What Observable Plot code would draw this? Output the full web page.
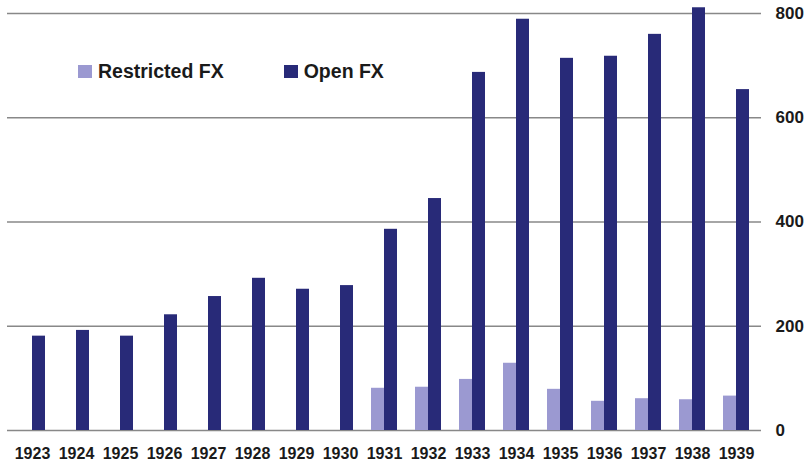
<!DOCTYPE html>
<html>
<head>
<meta charset="utf-8">
<script src="https://cdn.jsdelivr.net/npm/d3@7"></script>
<script src="https://cdn.jsdelivr.net/npm/@observablehq/plot@0.6"></script>
<style>
  html, body { margin: 0; padding: 0; background: #fff; }
  #wrap { position: relative; width: 807px; height: 464px; font-family: "Liberation Sans", Arial, sans-serif; }
  #legend { position: absolute; left: 78px; top: 60px; display: flex; align-items: center; font-weight: bold; font-size: 19.5px; color: #1a1a1a; }
  .item { display: flex; align-items: center; }
  .sw { width: 14px; height: 13px; margin-right: 6px; }
</style>
</head>
<body>
<div id="wrap">
  <div id="chart"></div>
  <div id="legend"></div>
</div>
<script>
const years = ["1923","1924","1925","1926","1927","1928","1929","1930","1931","1932","1933","1934","1935","1936","1937","1938","1939"];
const restrictedFX = [null,null,null,null,null,null,null,null,81,83,98,129,79,56,61,59,66];
const openFX = [181,192,181,222,257,292,271,278,386,445,687,789,714,718,760,811,654];
const seriesNames = ["Restricted FX","Open FX"];
const seriesColors = ["#9b99d1","#282a78"];
const yTicks = [0,200,400,600,800];

const restrictedData = years.map((year,i)=>({year, value: restrictedFX[i]})).filter(d=>d.value!=null);
const openData = years.map((year,i)=>({year, value: openFX[i]}));

const chart = Plot.plot({
  width: 807,
  height: 464,
  marginTop: 13,
  marginBottom: 34,
  marginLeft: 7,
  marginRight: 46,
  style: {fontFamily: '"Liberation Sans", Arial, sans-serif', color: "#1a1a1a", background: "#fff"},
  x: {domain: years, padding: 0},
  y: {domain: [0, 800]},
  marks: [
    Plot.ruleY(yTicks, {stroke: "#888888", strokeWidth: 1.6}),
    Plot.barY(restrictedData, {x: "year", y: "value", fill: seriesColors[0], insetLeft: 9, insetRight: 22}),
    Plot.barY(openData, {x: "year", y: "value", fill: seriesColors[1], insetLeft: 22, insetRight: 9}),
    Plot.axisX({tickSize: 0, tickPadding: 17, fontSize: 16, fontWeight: "bold", label: null}),
    Plot.axisY({anchor: "right", ticks: yTicks, tickSize: 0, tickPadding: 14, fontSize: 17, fontWeight: "bold", label: null})
  ]
});
document.getElementById("chart").appendChild(chart);

const legend = document.getElementById("legend");
seriesNames.forEach((name, i) => {
  const item = document.createElement("div");
  item.className = "item";
  if (i > 0) item.style.marginLeft = "60px";
  const sw = document.createElement("div");
  sw.className = "sw";
  sw.style.background = seriesColors[i];
  const t = document.createElement("span");
  t.textContent = name;
  item.appendChild(sw);
  item.appendChild(t);
  legend.appendChild(item);
});
</script>
</body>
</html>
